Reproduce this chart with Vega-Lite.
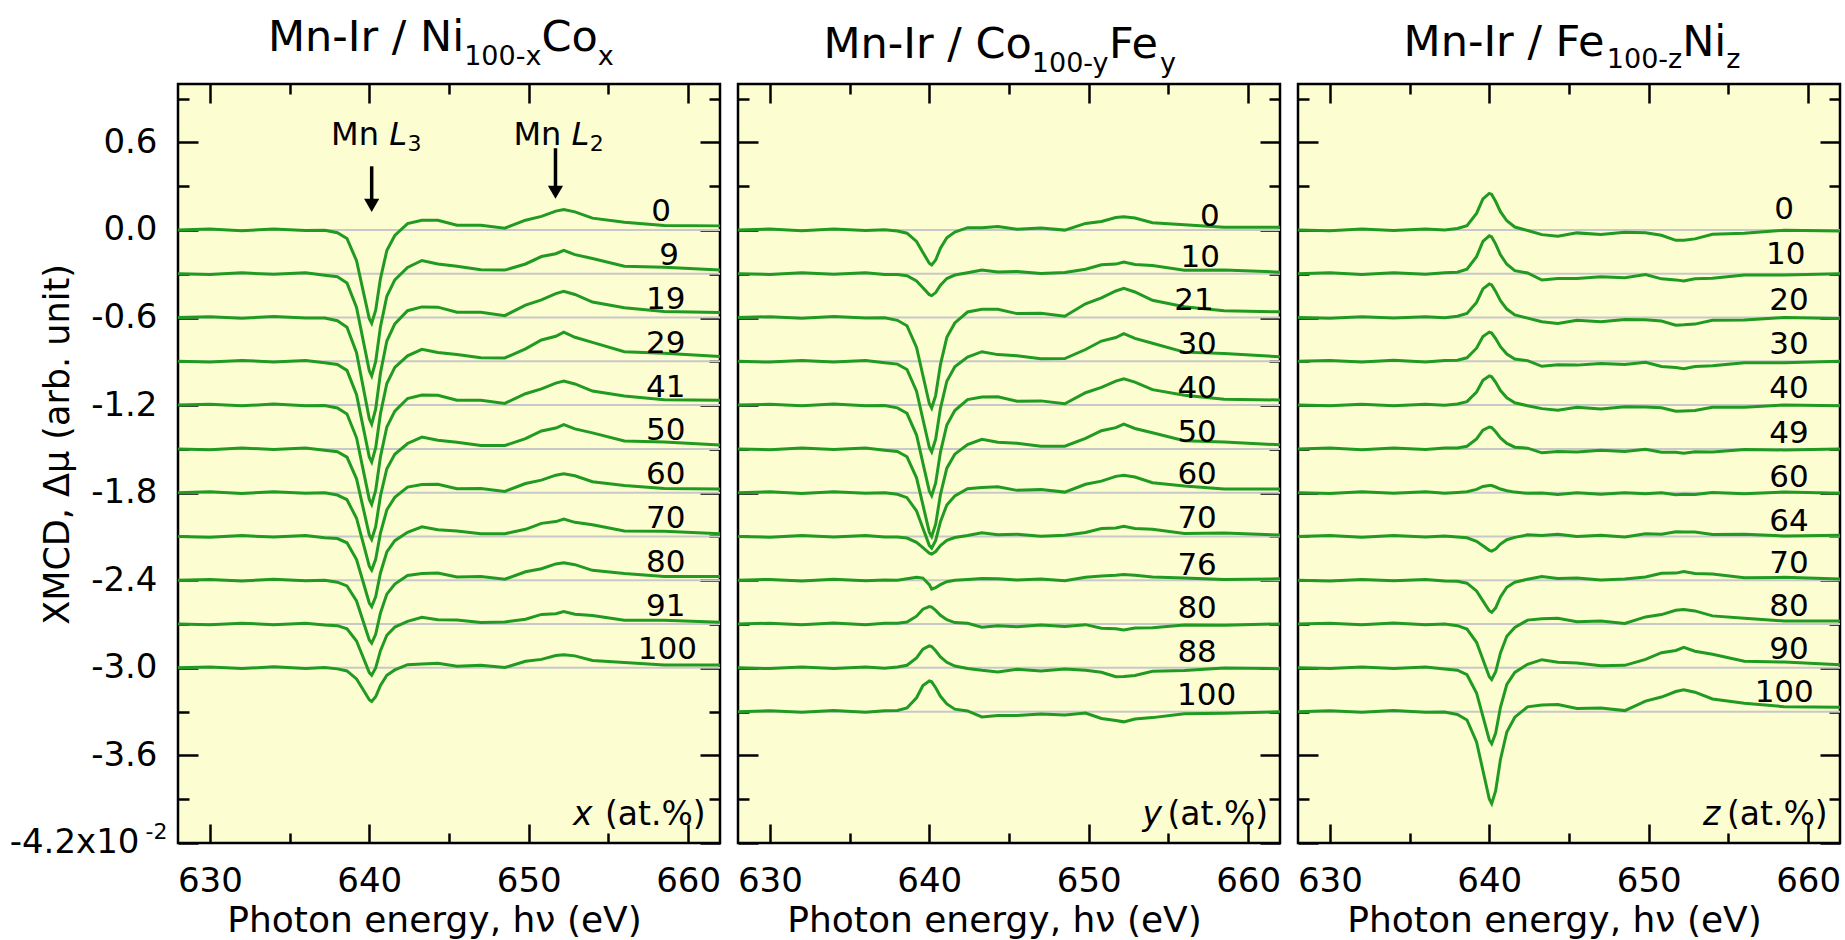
{
"$schema": "https://vega.github.io/schema/vega-lite/v6.json",
"background": "white",
"padding": {"left": 8, "top": 16, "right": 2, "bottom": 5},
"spacing": 2,
"config": {
 "font": "DejaVu Sans",
 "view": {"stroke": "black", "strokeWidth": 2.5, "fill": "#fdfdd2"},
 "axis": {"domain": false, "grid": false, "ticks": true, "tickColor": "black", "tickWidth": 2.5, "labelColor": "black", "labelFont": "DejaVu Sans", "labelFontSize": 34, "titleFont": "DejaVu Sans", "titleFontSize": 36, "titleFontWeight": "normal", "titleColor": "black", "labelFlush": false, "labelOverlap": false},
 "text": {"font": "DejaVu Sans", "color": "black"}
},
"datasets": {
"p1": [
{"k":"0","e":628,"v":0},{"k":"0","e":630,"v":0.006},{"k":"0","e":632,"v":-0.005},{"k":"0","e":634,"v":0.007},{"k":"0","e":636,"v":-0.004},{"k":"0","e":637.2,"v":-0.002},{"k":"0","e":638,"v":-0.019},{"k":"0","e":638.6,"v":-0.058},{"k":"0","e":639.2,"v":-0.211},{"k":"0","e":639.6,"v":-0.41},{"k":"0","e":640,"v":-0.608},{"k":"0","e":640.15,"v":-0.64},{"k":"0","e":640.4,"v":-0.55},{"k":"0","e":640.7,"v":-0.333},{"k":"0","e":641.1,"v":-0.141},{"k":"0","e":641.6,"v":-0.038},{"k":"0","e":642.4,"v":0.044},{"k":"0","e":643.3,"v":0.066},{"k":"0","e":644.3,"v":0.066},{"k":"0","e":645.5,"v":0.033},{"k":"0","e":647,"v":0.033},{"k":"0","e":648.5,"v":0.012},{"k":"0","e":649.8,"v":0.067},{"k":"0","e":650.8,"v":0.093},{"k":"0","e":651.7,"v":0.129},{"k":"0","e":652.2,"v":0.14},{"k":"0","e":652.9,"v":0.124},{"k":"0","e":654,"v":0.081},{"k":"0","e":656,"v":0.053},{"k":"0","e":658.5,"v":0.031},{"k":"0","e":662,"v":0.028},
{"k":"9","e":628,"v":-0.3},{"k":"9","e":630,"v":-0.305},{"k":"9","e":632,"v":-0.294},{"k":"9","e":634,"v":-0.304},{"k":"9","e":636,"v":-0.294},{"k":"9","e":637.2,"v":-0.31},{"k":"9","e":638,"v":-0.321},{"k":"9","e":638.6,"v":-0.363},{"k":"9","e":639.2,"v":-0.531},{"k":"9","e":639.6,"v":-0.748},{"k":"9","e":640,"v":-0.965},{"k":"9","e":640.15,"v":-1.0},{"k":"9","e":640.4,"v":-0.902},{"k":"9","e":640.7,"v":-0.664},{"k":"9","e":641.1,"v":-0.454},{"k":"9","e":641.6,"v":-0.342},{"k":"9","e":642.4,"v":-0.257},{"k":"9","e":643.3,"v":-0.209},{"k":"9","e":644.3,"v":-0.233},{"k":"9","e":645.5,"v":-0.248},{"k":"9","e":647,"v":-0.272},{"k":"9","e":648.5,"v":-0.275},{"k":"9","e":649.8,"v":-0.233},{"k":"9","e":650.8,"v":-0.182},{"k":"9","e":651.7,"v":-0.163},{"k":"9","e":652.2,"v":-0.14},{"k":"9","e":652.9,"v":-0.169},{"k":"9","e":654,"v":-0.195},{"k":"9","e":656,"v":-0.248},{"k":"9","e":658.5,"v":-0.255},{"k":"9","e":662,"v":-0.274},
{"k":"19","e":628,"v":-0.6},{"k":"19","e":630,"v":-0.594},{"k":"19","e":632,"v":-0.605},{"k":"19","e":634,"v":-0.593},{"k":"19","e":636,"v":-0.604},{"k":"19","e":637.2,"v":-0.603},{"k":"19","e":638,"v":-0.622},{"k":"19","e":638.6,"v":-0.666},{"k":"19","e":639.2,"v":-0.841},{"k":"19","e":639.6,"v":-1.067},{"k":"19","e":640,"v":-1.294},{"k":"19","e":640.15,"v":-1.33},{"k":"19","e":640.4,"v":-1.228},{"k":"19","e":640.7,"v":-0.98},{"k":"19","e":641.1,"v":-0.761},{"k":"19","e":641.6,"v":-0.644},{"k":"19","e":642.4,"v":-0.553},{"k":"19","e":643.3,"v":-0.527},{"k":"19","e":644.3,"v":-0.529},{"k":"19","e":645.5,"v":-0.564},{"k":"19","e":647,"v":-0.564},{"k":"19","e":648.5,"v":-0.587},{"k":"19","e":649.8,"v":-0.515},{"k":"19","e":650.8,"v":-0.479},{"k":"19","e":651.7,"v":-0.436},{"k":"19","e":652.2,"v":-0.42},{"k":"19","e":652.9,"v":-0.442},{"k":"19","e":654,"v":-0.494},{"k":"19","e":656,"v":-0.533},{"k":"19","e":658.5,"v":-0.559},{"k":"19","e":662,"v":-0.565},
{"k":"29","e":628,"v":-0.9},{"k":"29","e":630,"v":-0.905},{"k":"29","e":632,"v":-0.894},{"k":"29","e":634,"v":-0.904},{"k":"29","e":636,"v":-0.894},{"k":"29","e":637.2,"v":-0.91},{"k":"29","e":638,"v":-0.921},{"k":"29","e":638.6,"v":-0.962},{"k":"29","e":639.2,"v":-1.128},{"k":"29","e":639.6,"v":-1.342},{"k":"29","e":640,"v":-1.556},{"k":"29","e":640.15,"v":-1.59},{"k":"29","e":640.4,"v":-1.493},{"k":"29","e":640.7,"v":-1.259},{"k":"29","e":641.1,"v":-1.052},{"k":"29","e":641.6,"v":-0.941},{"k":"29","e":642.4,"v":-0.862},{"k":"29","e":643.3,"v":-0.818},{"k":"29","e":644.3,"v":-0.84},{"k":"29","e":645.5,"v":-0.853},{"k":"29","e":647,"v":-0.876},{"k":"29","e":648.5,"v":-0.877},{"k":"29","e":649.8,"v":-0.815},{"k":"29","e":650.8,"v":-0.754},{"k":"29","e":651.7,"v":-0.728},{"k":"29","e":652.2,"v":-0.7},{"k":"29","e":652.9,"v":-0.735},{"k":"29","e":654,"v":-0.77},{"k":"29","e":656,"v":-0.834},{"k":"29","e":658.5,"v":-0.845},{"k":"29","e":662,"v":-0.867},
{"k":"41","e":628,"v":-1.2},{"k":"41","e":630,"v":-1.194},{"k":"41","e":632,"v":-1.205},{"k":"41","e":634,"v":-1.193},{"k":"41","e":636,"v":-1.204},{"k":"41","e":637.2,"v":-1.203},{"k":"41","e":638,"v":-1.22},{"k":"41","e":638.6,"v":-1.261},{"k":"41","e":639.2,"v":-1.424},{"k":"41","e":639.6,"v":-1.635},{"k":"41","e":640,"v":-1.846},{"k":"41","e":640.15,"v":-1.88},{"k":"41","e":640.4,"v":-1.785},{"k":"41","e":640.7,"v":-1.554},{"k":"41","e":641.1,"v":-1.35},{"k":"41","e":641.6,"v":-1.241},{"k":"41","e":642.4,"v":-1.155},{"k":"41","e":643.3,"v":-1.131},{"k":"41","e":644.3,"v":-1.132},{"k":"41","e":645.5,"v":-1.166},{"k":"41","e":647,"v":-1.166},{"k":"41","e":648.5,"v":-1.188},{"k":"41","e":649.8,"v":-1.122},{"k":"41","e":650.8,"v":-1.089},{"k":"41","e":651.7,"v":-1.049},{"k":"41","e":652.2,"v":-1.035},{"k":"41","e":652.9,"v":-1.055},{"k":"41","e":654,"v":-1.104},{"k":"41","e":656,"v":-1.138},{"k":"41","e":658.5,"v":-1.163},{"k":"41","e":662,"v":-1.167},
{"k":"50","e":628,"v":-1.5},{"k":"50","e":630,"v":-1.505},{"k":"50","e":632,"v":-1.494},{"k":"50","e":634,"v":-1.504},{"k":"50","e":636,"v":-1.494},{"k":"50","e":637.2,"v":-1.509},{"k":"50","e":638,"v":-1.519},{"k":"50","e":638.6,"v":-1.556},{"k":"50","e":639.2,"v":-1.705},{"k":"50","e":639.6,"v":-1.897},{"k":"50","e":640,"v":-2.089},{"k":"50","e":640.15,"v":-2.12},{"k":"50","e":640.4,"v":-2.033},{"k":"50","e":640.7,"v":-1.822},{"k":"50","e":641.1,"v":-1.636},{"k":"50","e":641.6,"v":-1.537},{"k":"50","e":642.4,"v":-1.463},{"k":"50","e":643.3,"v":-1.419},{"k":"50","e":644.3,"v":-1.441},{"k":"50","e":645.5,"v":-1.454},{"k":"50","e":647,"v":-1.476},{"k":"50","e":648.5,"v":-1.477},{"k":"50","e":649.8,"v":-1.43},{"k":"50","e":650.8,"v":-1.377},{"k":"50","e":651.7,"v":-1.357},{"k":"50","e":652.2,"v":-1.333},{"k":"50","e":652.9,"v":-1.363},{"k":"50","e":654,"v":-1.39},{"k":"50","e":656,"v":-1.446},{"k":"50","e":658.5,"v":-1.453},{"k":"50","e":662,"v":-1.473},
{"k":"60","e":628,"v":-1.8},{"k":"60","e":630,"v":-1.794},{"k":"60","e":632,"v":-1.805},{"k":"60","e":634,"v":-1.793},{"k":"60","e":636,"v":-1.804},{"k":"60","e":637.2,"v":-1.801},{"k":"60","e":638,"v":-1.816},{"k":"60","e":638.6,"v":-1.848},{"k":"60","e":639.2,"v":-1.975},{"k":"60","e":639.6,"v":-2.139},{"k":"60","e":640,"v":-2.304},{"k":"60","e":640.15,"v":-2.33},{"k":"60","e":640.4,"v":-2.256},{"k":"60","e":640.7,"v":-2.076},{"k":"60","e":641.1,"v":-1.917},{"k":"60","e":641.6,"v":-1.832},{"k":"60","e":642.4,"v":-1.762},{"k":"60","e":643.3,"v":-1.744},{"k":"60","e":644.3,"v":-1.743},{"k":"60","e":645.5,"v":-1.773},{"k":"60","e":647,"v":-1.771},{"k":"60","e":648.5,"v":-1.791},{"k":"60","e":649.8,"v":-1.737},{"k":"60","e":650.8,"v":-1.714},{"k":"60","e":651.7,"v":-1.68},{"k":"60","e":652.2,"v":-1.67},{"k":"60","e":652.9,"v":-1.684},{"k":"60","e":654,"v":-1.725},{"k":"60","e":656,"v":-1.75},{"k":"60","e":658.5,"v":-1.771},{"k":"60","e":662,"v":-1.774},
{"k":"70","e":628,"v":-2.1},{"k":"70","e":630,"v":-2.105},{"k":"70","e":632,"v":-2.094},{"k":"70","e":634,"v":-2.104},{"k":"70","e":636,"v":-2.094},{"k":"70","e":637.2,"v":-2.108},{"k":"70","e":638,"v":-2.114},{"k":"70","e":638.6,"v":-2.143},{"k":"70","e":639.2,"v":-2.258},{"k":"70","e":639.6,"v":-2.407},{"k":"70","e":640,"v":-2.556},{"k":"70","e":640.15,"v":-2.58},{"k":"70","e":640.4,"v":-2.513},{"k":"70","e":640.7,"v":-2.35},{"k":"70","e":641.1,"v":-2.206},{"k":"70","e":641.6,"v":-2.129},{"k":"70","e":642.4,"v":-2.071},{"k":"70","e":643.3,"v":-2.034},{"k":"70","e":644.3,"v":-2.054},{"k":"70","e":645.5,"v":-2.062},{"k":"70","e":647,"v":-2.082},{"k":"70","e":648.5,"v":-2.081},{"k":"70","e":649.8,"v":-2.051},{"k":"70","e":650.8,"v":-2.01},{"k":"70","e":651.7,"v":-1.998},{"k":"70","e":652.2,"v":-1.98},{"k":"70","e":652.9,"v":-2.003},{"k":"70","e":654,"v":-2.02},{"k":"70","e":656,"v":-2.062},{"k":"70","e":658.5,"v":-2.065},{"k":"70","e":662,"v":-2.081},
{"k":"80","e":628,"v":-2.4},{"k":"80","e":630,"v":-2.394},{"k":"80","e":632,"v":-2.405},{"k":"80","e":634,"v":-2.393},{"k":"80","e":636,"v":-2.404},{"k":"80","e":637.2,"v":-2.4},{"k":"80","e":638,"v":-2.413},{"k":"80","e":638.6,"v":-2.439},{"k":"80","e":639.2,"v":-2.542},{"k":"80","e":639.6,"v":-2.675},{"k":"80","e":640,"v":-2.809},{"k":"80","e":640.15,"v":-2.83},{"k":"80","e":640.4,"v":-2.77},{"k":"80","e":640.7,"v":-2.624},{"k":"80","e":641.1,"v":-2.495},{"k":"80","e":641.6,"v":-2.426},{"k":"80","e":642.4,"v":-2.367},{"k":"80","e":643.3,"v":-2.354},{"k":"80","e":644.3,"v":-2.351},{"k":"80","e":645.5,"v":-2.378},{"k":"80","e":647,"v":-2.375},{"k":"80","e":648.5,"v":-2.393},{"k":"80","e":649.8,"v":-2.342},{"k":"80","e":650.8,"v":-2.321},{"k":"80","e":651.7,"v":-2.288},{"k":"80","e":652.2,"v":-2.28},{"k":"80","e":652.9,"v":-2.293},{"k":"80","e":654,"v":-2.332},{"k":"80","e":656,"v":-2.354},{"k":"80","e":658.5,"v":-2.374},{"k":"80","e":662,"v":-2.375},
{"k":"91","e":628,"v":-2.7},{"k":"91","e":630,"v":-2.705},{"k":"91","e":632,"v":-2.694},{"k":"91","e":634,"v":-2.704},{"k":"91","e":636,"v":-2.694},{"k":"91","e":637.2,"v":-2.707},{"k":"91","e":638,"v":-2.711},{"k":"91","e":638.6,"v":-2.732},{"k":"91","e":639.2,"v":-2.816},{"k":"91","e":639.6,"v":-2.924},{"k":"91","e":640,"v":-3.033},{"k":"91","e":640.15,"v":-3.05},{"k":"91","e":640.4,"v":-3.001},{"k":"91","e":640.7,"v":-2.882},{"k":"91","e":641.1,"v":-2.777},{"k":"91","e":641.6,"v":-2.721},{"k":"91","e":642.4,"v":-2.682},{"k":"91","e":643.3,"v":-2.654},{"k":"91","e":644.3,"v":-2.671},{"k":"91","e":645.5,"v":-2.673},{"k":"91","e":647,"v":-2.69},{"k":"91","e":648.5,"v":-2.686},{"k":"91","e":649.8,"v":-2.667},{"k":"91","e":650.8,"v":-2.634},{"k":"91","e":651.7,"v":-2.629},{"k":"91","e":652.2,"v":-2.615},{"k":"91","e":652.9,"v":-2.633},{"k":"91","e":654,"v":-2.641},{"k":"91","e":656,"v":-2.674},{"k":"91","e":658.5,"v":-2.674},{"k":"91","e":662,"v":-2.688},
{"k":"100","e":628,"v":-3.0},{"k":"100","e":630,"v":-2.994},{"k":"100","e":632,"v":-3.005},{"k":"100","e":634,"v":-2.993},{"k":"100","e":636,"v":-3.004},{"k":"100","e":637.2,"v":-2.998},{"k":"100","e":638,"v":-3.007},{"k":"100","e":638.6,"v":-3.021},{"k":"100","e":639.2,"v":-3.076},{"k":"100","e":639.6,"v":-3.147},{"k":"100","e":640,"v":-3.219},{"k":"100","e":640.15,"v":-3.23},{"k":"100","e":640.4,"v":-3.198},{"k":"100","e":640.7,"v":-3.12},{"k":"100","e":641.1,"v":-3.051},{"k":"100","e":641.6,"v":-3.014},{"k":"100","e":642.4,"v":-2.978},{"k":"100","e":643.3,"v":-2.974},{"k":"100","e":644.3,"v":-2.968},{"k":"100","e":645.5,"v":-2.989},{"k":"100","e":647,"v":-2.983},{"k":"100","e":648.5,"v":-2.998},{"k":"100","e":649.8,"v":-2.955},{"k":"100","e":650.8,"v":-2.942},{"k":"100","e":651.7,"v":-2.915},{"k":"100","e":652.2,"v":-2.91},{"k":"100","e":652.9,"v":-2.918},{"k":"100","e":654,"v":-2.95},{"k":"100","e":656,"v":-2.964},{"k":"100","e":658.5,"v":-2.981},{"k":"100","e":662,"v":-2.981}
],
"p2": [
{"k":"0","e":628,"v":0},{"k":"0","e":630,"v":0.006},{"k":"0","e":632,"v":-0.005},{"k":"0","e":634,"v":0.007},{"k":"0","e":636,"v":-0.004},{"k":"0","e":637.2,"v":0.002},{"k":"0","e":638,"v":-0.007},{"k":"0","e":638.6,"v":-0.022},{"k":"0","e":639.2,"v":-0.079},{"k":"0","e":639.6,"v":-0.154},{"k":"0","e":640,"v":-0.228},{"k":"0","e":640.15,"v":-0.24},{"k":"0","e":640.4,"v":-0.206},{"k":"0","e":640.7,"v":-0.125},{"k":"0","e":641.1,"v":-0.053},{"k":"0","e":641.6,"v":-0.014},{"k":"0","e":642.4,"v":0.016},{"k":"0","e":643.3,"v":0.016},{"k":"0","e":644.3,"v":0.023},{"k":"0","e":645.5,"v":0.005},{"k":"0","e":647,"v":0.013},{"k":"0","e":648.5,"v":-0.001},{"k":"0","e":649.8,"v":0.045},{"k":"0","e":650.8,"v":0.058},{"k":"0","e":651.7,"v":0.085},{"k":"0","e":652.2,"v":0.09},{"k":"0","e":652.9,"v":0.082},{"k":"0","e":654,"v":0.05},{"k":"0","e":656,"v":0.036},{"k":"0","e":658.5,"v":0.019},{"k":"0","e":662,"v":0.019},
{"k":"10","e":628,"v":-0.3},{"k":"10","e":630,"v":-0.305},{"k":"10","e":632,"v":-0.294},{"k":"10","e":634,"v":-0.304},{"k":"10","e":636,"v":-0.294},{"k":"10","e":637.2,"v":-0.305},{"k":"10","e":638,"v":-0.305},{"k":"10","e":638.6,"v":-0.314},{"k":"10","e":639.2,"v":-0.35},{"k":"10","e":639.6,"v":-0.396},{"k":"10","e":640,"v":-0.443},{"k":"10","e":640.15,"v":-0.45},{"k":"10","e":640.4,"v":-0.429},{"k":"10","e":640.7,"v":-0.378},{"k":"10","e":641.1,"v":-0.333},{"k":"10","e":641.6,"v":-0.309},{"k":"10","e":642.4,"v":-0.293},{"k":"10","e":643.3,"v":-0.274},{"k":"10","e":644.3,"v":-0.288},{"k":"10","e":645.5,"v":-0.284},{"k":"10","e":647,"v":-0.298},{"k":"10","e":648.5,"v":-0.291},{"k":"10","e":649.8,"v":-0.269},{"k":"10","e":650.8,"v":-0.238},{"k":"10","e":651.7,"v":-0.234},{"k":"10","e":652.2,"v":-0.22},{"k":"10","e":652.9,"v":-0.237},{"k":"10","e":654,"v":-0.244},{"k":"10","e":656,"v":-0.276},{"k":"10","e":658.5,"v":-0.275},{"k":"10","e":662,"v":-0.289},
{"k":"21","e":628,"v":-0.6},{"k":"21","e":630,"v":-0.594},{"k":"21","e":632,"v":-0.605},{"k":"21","e":634,"v":-0.593},{"k":"21","e":636,"v":-0.604},{"k":"21","e":637.2,"v":-0.602},{"k":"21","e":638,"v":-0.619},{"k":"21","e":638.6,"v":-0.656},{"k":"21","e":639.2,"v":-0.805},{"k":"21","e":639.6,"v":-0.997},{"k":"21","e":640,"v":-1.189},{"k":"21","e":640.15,"v":-1.22},{"k":"21","e":640.4,"v":-1.133},{"k":"21","e":640.7,"v":-0.922},{"k":"21","e":641.1,"v":-0.736},{"k":"21","e":641.6,"v":-0.637},{"k":"21","e":642.4,"v":-0.562},{"k":"21","e":643.3,"v":-0.544},{"k":"21","e":644.3,"v":-0.543},{"k":"21","e":645.5,"v":-0.573},{"k":"21","e":647,"v":-0.571},{"k":"21","e":648.5,"v":-0.591},{"k":"21","e":649.8,"v":-0.506},{"k":"21","e":650.8,"v":-0.465},{"k":"21","e":651.7,"v":-0.418},{"k":"21","e":652.2,"v":-0.4},{"k":"21","e":652.9,"v":-0.425},{"k":"21","e":654,"v":-0.482},{"k":"21","e":656,"v":-0.526},{"k":"21","e":658.5,"v":-0.554},{"k":"21","e":662,"v":-0.561},
{"k":"30","e":628,"v":-0.9},{"k":"30","e":630,"v":-0.905},{"k":"30","e":632,"v":-0.894},{"k":"30","e":634,"v":-0.904},{"k":"30","e":636,"v":-0.894},{"k":"30","e":637.2,"v":-0.909},{"k":"30","e":638,"v":-0.919},{"k":"30","e":638.6,"v":-0.956},{"k":"30","e":639.2,"v":-1.105},{"k":"30","e":639.6,"v":-1.297},{"k":"30","e":640,"v":-1.489},{"k":"30","e":640.15,"v":-1.52},{"k":"30","e":640.4,"v":-1.433},{"k":"30","e":640.7,"v":-1.222},{"k":"30","e":641.1,"v":-1.036},{"k":"30","e":641.6,"v":-0.937},{"k":"30","e":642.4,"v":-0.871},{"k":"30","e":643.3,"v":-0.834},{"k":"30","e":644.3,"v":-0.854},{"k":"30","e":645.5,"v":-0.862},{"k":"30","e":647,"v":-0.882},{"k":"30","e":648.5,"v":-0.881},{"k":"30","e":649.8,"v":-0.819},{"k":"30","e":650.8,"v":-0.761},{"k":"30","e":651.7,"v":-0.737},{"k":"30","e":652.2,"v":-0.71},{"k":"30","e":652.9,"v":-0.743},{"k":"30","e":654,"v":-0.776},{"k":"30","e":656,"v":-0.837},{"k":"30","e":658.5,"v":-0.847},{"k":"30","e":662,"v":-0.869},
{"k":"40","e":628,"v":-1.2},{"k":"40","e":630,"v":-1.194},{"k":"40","e":632,"v":-1.205},{"k":"40","e":634,"v":-1.193},{"k":"40","e":636,"v":-1.204},{"k":"40","e":637.2,"v":-1.202},{"k":"40","e":638,"v":-1.219},{"k":"40","e":638.6,"v":-1.256},{"k":"40","e":639.2,"v":-1.405},{"k":"40","e":639.6,"v":-1.597},{"k":"40","e":640,"v":-1.789},{"k":"40","e":640.15,"v":-1.82},{"k":"40","e":640.4,"v":-1.733},{"k":"40","e":640.7,"v":-1.522},{"k":"40","e":641.1,"v":-1.336},{"k":"40","e":641.6,"v":-1.237},{"k":"40","e":642.4,"v":-1.162},{"k":"40","e":643.3,"v":-1.144},{"k":"40","e":644.3,"v":-1.143},{"k":"40","e":645.5,"v":-1.173},{"k":"40","e":647,"v":-1.171},{"k":"40","e":648.5,"v":-1.191},{"k":"40","e":649.8,"v":-1.115},{"k":"40","e":650.8,"v":-1.079},{"k":"40","e":651.7,"v":-1.036},{"k":"40","e":652.2,"v":-1.02},{"k":"40","e":652.9,"v":-1.042},{"k":"40","e":654,"v":-1.094},{"k":"40","e":656,"v":-1.133},{"k":"40","e":658.5,"v":-1.159},{"k":"40","e":662,"v":-1.165},
{"k":"50","e":628,"v":-1.5},{"k":"50","e":630,"v":-1.505},{"k":"50","e":632,"v":-1.494},{"k":"50","e":634,"v":-1.504},{"k":"50","e":636,"v":-1.494},{"k":"50","e":637.2,"v":-1.509},{"k":"50","e":638,"v":-1.518},{"k":"50","e":638.6,"v":-1.554},{"k":"50","e":639.2,"v":-1.698},{"k":"50","e":639.6,"v":-1.884},{"k":"50","e":640,"v":-2.07},{"k":"50","e":640.15,"v":-2.1},{"k":"50","e":640.4,"v":-2.016},{"k":"50","e":640.7,"v":-1.812},{"k":"50","e":641.1,"v":-1.632},{"k":"50","e":641.6,"v":-1.536},{"k":"50","e":642.4,"v":-1.471},{"k":"50","e":643.3,"v":-1.434},{"k":"50","e":644.3,"v":-1.454},{"k":"50","e":645.5,"v":-1.462},{"k":"50","e":647,"v":-1.482},{"k":"50","e":648.5,"v":-1.481},{"k":"50","e":649.8,"v":-1.428},{"k":"50","e":650.8,"v":-1.375},{"k":"50","e":651.7,"v":-1.354},{"k":"50","e":652.2,"v":-1.33},{"k":"50","e":652.9,"v":-1.36},{"k":"50","e":654,"v":-1.389},{"k":"50","e":656,"v":-1.444},{"k":"50","e":658.5,"v":-1.452},{"k":"50","e":662,"v":-1.472},
{"k":"60","e":628,"v":-1.8},{"k":"60","e":630,"v":-1.794},{"k":"60","e":632,"v":-1.805},{"k":"60","e":634,"v":-1.793},{"k":"60","e":636,"v":-1.804},{"k":"60","e":637.2,"v":-1.8},{"k":"60","e":638,"v":-1.811},{"k":"60","e":638.6,"v":-1.834},{"k":"60","e":639.2,"v":-1.925},{"k":"60","e":639.6,"v":-2.043},{"k":"60","e":640,"v":-2.161},{"k":"60","e":640.15,"v":-2.18},{"k":"60","e":640.4,"v":-2.127},{"k":"60","e":640.7,"v":-1.998},{"k":"60","e":641.1,"v":-1.884},{"k":"60","e":641.6,"v":-1.823},{"k":"60","e":642.4,"v":-1.773},{"k":"60","e":643.3,"v":-1.764},{"k":"60","e":644.3,"v":-1.76},{"k":"60","e":645.5,"v":-1.784},{"k":"60","e":647,"v":-1.779},{"k":"60","e":648.5,"v":-1.796},{"k":"60","e":649.8,"v":-1.742},{"k":"60","e":650.8,"v":-1.721},{"k":"60","e":651.7,"v":-1.688},{"k":"60","e":652.2,"v":-1.68},{"k":"60","e":652.9,"v":-1.693},{"k":"60","e":654,"v":-1.732},{"k":"60","e":656,"v":-1.754},{"k":"60","e":658.5,"v":-1.774},{"k":"60","e":662,"v":-1.775},
{"k":"70","e":628,"v":-2.1},{"k":"70","e":630,"v":-2.105},{"k":"70","e":632,"v":-2.094},{"k":"70","e":634,"v":-2.104},{"k":"70","e":636,"v":-2.094},{"k":"70","e":637.2,"v":-2.104},{"k":"70","e":638,"v":-2.104},{"k":"70","e":638.6,"v":-2.111},{"k":"70","e":639.2,"v":-2.14},{"k":"70","e":639.6,"v":-2.177},{"k":"70","e":640,"v":-2.214},{"k":"70","e":640.15,"v":-2.22},{"k":"70","e":640.4,"v":-2.203},{"k":"70","e":640.7,"v":-2.162},{"k":"70","e":641.1,"v":-2.126},{"k":"70","e":641.6,"v":-2.107},{"k":"70","e":642.4,"v":-2.093},{"k":"70","e":643.3,"v":-2.074},{"k":"70","e":644.3,"v":-2.088},{"k":"70","e":645.5,"v":-2.084},{"k":"70","e":647,"v":-2.098},{"k":"70","e":648.5,"v":-2.091},{"k":"70","e":649.8,"v":-2.073},{"k":"70","e":650.8,"v":-2.045},{"k":"70","e":651.7,"v":-2.042},{"k":"70","e":652.2,"v":-2.03},{"k":"70","e":652.9,"v":-2.045},{"k":"70","e":654,"v":-2.051},{"k":"70","e":656,"v":-2.079},{"k":"70","e":658.5,"v":-2.077},{"k":"70","e":662,"v":-2.09},
{"k":"76","e":628,"v":-2.4},{"k":"76","e":630,"v":-2.394},{"k":"76","e":632,"v":-2.405},{"k":"76","e":634,"v":-2.393},{"k":"76","e":636,"v":-2.404},{"k":"76","e":637.2,"v":-2.398},{"k":"76","e":638,"v":-2.4},{"k":"76","e":638.6,"v":-2.39},{"k":"76","e":639.2,"v":-2.38},{"k":"76","e":639.6,"v":-2.385},{"k":"76","e":640,"v":-2.43},{"k":"76","e":640.15,"v":-2.46},{"k":"76","e":640.4,"v":-2.45},{"k":"76","e":640.7,"v":-2.43},{"k":"76","e":641.1,"v":-2.41},{"k":"76","e":641.6,"v":-2.4},{"k":"76","e":642.4,"v":-2.395},{"k":"76","e":643.3,"v":-2.388},{"k":"76","e":644.3,"v":-2.39},{"k":"76","e":645.5,"v":-2.398},{"k":"76","e":647,"v":-2.392},{"k":"76","e":648.5,"v":-2.404},{"k":"76","e":649.8,"v":-2.38},{"k":"76","e":650.8,"v":-2.37},{"k":"76","e":651.7,"v":-2.365},{"k":"76","e":652.2,"v":-2.36},{"k":"76","e":652.9,"v":-2.366},{"k":"76","e":654,"v":-2.378},{"k":"76","e":656,"v":-2.384},{"k":"76","e":658.5,"v":-2.394},{"k":"76","e":662,"v":-2.39},
{"k":"80","e":628,"v":-2.7},{"k":"80","e":630,"v":-2.694},{"k":"80","e":632,"v":-2.705},{"k":"80","e":634,"v":-2.693},{"k":"80","e":636,"v":-2.704},{"k":"80","e":637.2,"v":-2.695},{"k":"80","e":638,"v":-2.695},{"k":"80","e":638.6,"v":-2.686},{"k":"80","e":639.2,"v":-2.646},{"k":"80","e":639.6,"v":-2.598},{"k":"80","e":640,"v":-2.58},{"k":"80","e":640.15,"v":-2.584},{"k":"80","e":640.4,"v":-2.606},{"k":"80","e":640.7,"v":-2.64},{"k":"80","e":641.1,"v":-2.67},{"k":"80","e":641.6,"v":-2.69},{"k":"80","e":642.4,"v":-2.695},{"k":"80","e":643.3,"v":-2.722},{"k":"80","e":644.3,"v":-2.712},{"k":"80","e":645.5,"v":-2.718},{"k":"80","e":647,"v":-2.707},{"k":"80","e":648.5,"v":-2.716},{"k":"80","e":649.8,"v":-2.704},{"k":"80","e":650.8,"v":-2.729},{"k":"80","e":651.7,"v":-2.732},{"k":"80","e":652.2,"v":-2.74},{"k":"80","e":652.9,"v":-2.727},{"k":"80","e":654,"v":-2.726},{"k":"80","e":656,"v":-2.706},{"k":"80","e":658.5,"v":-2.708},{"k":"80","e":662,"v":-2.699},
{"k":"88","e":628,"v":-3.0},{"k":"88","e":630,"v":-3.005},{"k":"88","e":632,"v":-2.994},{"k":"88","e":634,"v":-3.004},{"k":"88","e":636,"v":-2.994},{"k":"88","e":637.2,"v":-3.002},{"k":"88","e":638,"v":-2.994},{"k":"88","e":638.6,"v":-2.982},{"k":"88","e":639.2,"v":-2.932},{"k":"88","e":639.6,"v":-2.872},{"k":"88","e":640,"v":-2.85},{"k":"88","e":640.15,"v":-2.854},{"k":"88","e":640.4,"v":-2.883},{"k":"88","e":640.7,"v":-2.925},{"k":"88","e":641.1,"v":-2.962},{"k":"88","e":641.6,"v":-2.988},{"k":"88","e":642.4,"v":-3.004},{"k":"88","e":643.3,"v":-3.017},{"k":"88","e":644.3,"v":-3.028},{"k":"88","e":645.5,"v":-3.01},{"k":"88","e":647,"v":-3.021},{"k":"88","e":648.5,"v":-3.008},{"k":"88","e":649.8,"v":-3.017},{"k":"88","e":650.8,"v":-3.03},{"k":"88","e":651.7,"v":-3.061},{"k":"88","e":652.2,"v":-3.06},{"k":"88","e":652.9,"v":-3.053},{"k":"88","e":654,"v":-3.024},{"k":"88","e":656,"v":-3.019},{"k":"88","e":658.5,"v":-3.001},{"k":"88","e":662,"v":-3.006},
{"k":"100","e":628,"v":-3.3},{"k":"100","e":630,"v":-3.294},{"k":"100","e":632,"v":-3.305},{"k":"100","e":634,"v":-3.293},{"k":"100","e":636,"v":-3.304},{"k":"100","e":637.2,"v":-3.294},{"k":"100","e":638,"v":-3.292},{"k":"100","e":638.6,"v":-3.275},{"k":"100","e":639.2,"v":-3.205},{"k":"100","e":639.6,"v":-3.121},{"k":"100","e":640,"v":-3.09},{"k":"100","e":640.15,"v":-3.096},{"k":"100","e":640.4,"v":-3.136},{"k":"100","e":640.7,"v":-3.195},{"k":"100","e":641.1,"v":-3.247},{"k":"100","e":641.6,"v":-3.283},{"k":"100","e":642.4,"v":-3.295},{"k":"100","e":643.3,"v":-3.336},{"k":"100","e":644.3,"v":-3.326},{"k":"100","e":645.5,"v":-3.327},{"k":"100","e":647,"v":-3.316},{"k":"100","e":648.5,"v":-3.323},{"k":"100","e":649.8,"v":-3.31},{"k":"100","e":650.8,"v":-3.347},{"k":"100","e":651.7,"v":-3.361},{"k":"100","e":652.2,"v":-3.37},{"k":"100","e":652.9,"v":-3.351},{"k":"100","e":654,"v":-3.341},{"k":"100","e":656,"v":-3.314},{"k":"100","e":658.5,"v":-3.311},{"k":"100","e":662,"v":-3.301}
],
"p3": [
{"k":"0","e":628,"v":0},{"k":"0","e":630,"v":-0.005},{"k":"0","e":632,"v":0.006},{"k":"0","e":634,"v":-0.004},{"k":"0","e":636,"v":0.006},{"k":"0","e":637.2,"v":0},{"k":"0","e":638,"v":0.01},{"k":"0","e":638.6,"v":0.03},{"k":"0","e":639.2,"v":0.113},{"k":"0","e":639.6,"v":0.213},{"k":"0","e":640,"v":0.25},{"k":"0","e":640.15,"v":0.243},{"k":"0","e":640.4,"v":0.195},{"k":"0","e":640.7,"v":0.125},{"k":"0","e":641.1,"v":0.063},{"k":"0","e":641.6,"v":0.02},{"k":"0","e":642.4,"v":-0.004},{"k":"0","e":643.3,"v":-0.032},{"k":"0","e":644.3,"v":-0.043},{"k":"0","e":645.5,"v":-0.02},{"k":"0","e":647,"v":-0.031},{"k":"0","e":648.5,"v":-0.016},{"k":"0","e":649.8,"v":-0.019},{"k":"0","e":650.8,"v":-0.036},{"k":"0","e":651.7,"v":-0.071},{"k":"0","e":652.2,"v":-0.07},{"k":"0","e":652.9,"v":-0.061},{"k":"0","e":654,"v":-0.029},{"k":"0","e":656,"v":-0.022},{"k":"0","e":658.5,"v":-0.002},{"k":"0","e":662,"v":-0.007},
{"k":"10","e":628,"v":-0.3},{"k":"10","e":630,"v":-0.294},{"k":"10","e":632,"v":-0.305},{"k":"10","e":634,"v":-0.293},{"k":"10","e":636,"v":-0.304},{"k":"10","e":637.2,"v":-0.293},{"k":"10","e":638,"v":-0.29},{"k":"10","e":638.6,"v":-0.269},{"k":"10","e":639.2,"v":-0.183},{"k":"10","e":639.6,"v":-0.079},{"k":"10","e":640,"v":-0.04},{"k":"10","e":640.15,"v":-0.048},{"k":"10","e":640.4,"v":-0.097},{"k":"10","e":640.7,"v":-0.17},{"k":"10","e":641.1,"v":-0.235},{"k":"10","e":641.6,"v":-0.279},{"k":"10","e":642.4,"v":-0.295},{"k":"10","e":643.3,"v":-0.343},{"k":"10","e":644.3,"v":-0.333},{"k":"10","e":645.5,"v":-0.332},{"k":"10","e":647,"v":-0.321},{"k":"10","e":648.5,"v":-0.327},{"k":"10","e":649.8,"v":-0.306},{"k":"10","e":650.8,"v":-0.335},{"k":"10","e":651.7,"v":-0.342},{"k":"10","e":652.2,"v":-0.35},{"k":"10","e":652.9,"v":-0.335},{"k":"10","e":654,"v":-0.331},{"k":"10","e":656,"v":-0.309},{"k":"10","e":658.5,"v":-0.309},{"k":"10","e":662,"v":-0.3},
{"k":"20","e":628,"v":-0.6},{"k":"20","e":630,"v":-0.605},{"k":"20","e":632,"v":-0.594},{"k":"20","e":634,"v":-0.604},{"k":"20","e":636,"v":-0.594},{"k":"20","e":637.2,"v":-0.601},{"k":"20","e":638,"v":-0.591},{"k":"20","e":638.6,"v":-0.572},{"k":"20","e":639.2,"v":-0.496},{"k":"20","e":639.6,"v":-0.404},{"k":"20","e":640,"v":-0.37},{"k":"20","e":640.15,"v":-0.377},{"k":"20","e":640.4,"v":-0.421},{"k":"20","e":640.7,"v":-0.485},{"k":"20","e":641.1,"v":-0.542},{"k":"20","e":641.6,"v":-0.582},{"k":"20","e":642.4,"v":-0.604},{"k":"20","e":643.3,"v":-0.629},{"k":"20","e":644.3,"v":-0.64},{"k":"20","e":645.5,"v":-0.618},{"k":"20","e":647,"v":-0.629},{"k":"20","e":648.5,"v":-0.614},{"k":"20","e":649.8,"v":-0.615},{"k":"20","e":650.8,"v":-0.624},{"k":"20","e":651.7,"v":-0.652},{"k":"20","e":652.2,"v":-0.65},{"k":"20","e":652.9,"v":-0.645},{"k":"20","e":654,"v":-0.619},{"k":"20","e":656,"v":-0.617},{"k":"20","e":658.5,"v":-0.6},{"k":"20","e":662,"v":-0.606},
{"k":"30","e":628,"v":-0.9},{"k":"30","e":630,"v":-0.894},{"k":"30","e":632,"v":-0.905},{"k":"30","e":634,"v":-0.893},{"k":"30","e":636,"v":-0.904},{"k":"30","e":637.2,"v":-0.894},{"k":"30","e":638,"v":-0.892},{"k":"30","e":638.6,"v":-0.876},{"k":"30","e":639.2,"v":-0.81},{"k":"30","e":639.6,"v":-0.73},{"k":"30","e":640,"v":-0.7},{"k":"30","e":640.15,"v":-0.706},{"k":"30","e":640.4,"v":-0.744},{"k":"30","e":640.7,"v":-0.8},{"k":"30","e":641.1,"v":-0.85},{"k":"30","e":641.6,"v":-0.884},{"k":"30","e":642.4,"v":-0.895},{"k":"30","e":643.3,"v":-0.934},{"k":"30","e":644.3,"v":-0.924},{"k":"30","e":645.5,"v":-0.926},{"k":"30","e":647,"v":-0.915},{"k":"30","e":648.5,"v":-0.922},{"k":"30","e":649.8,"v":-0.906},{"k":"30","e":650.8,"v":-0.935},{"k":"30","e":651.7,"v":-0.942},{"k":"30","e":652.2,"v":-0.95},{"k":"30","e":652.9,"v":-0.935},{"k":"30","e":654,"v":-0.931},{"k":"30","e":656,"v":-0.909},{"k":"30","e":658.5,"v":-0.909},{"k":"30","e":662,"v":-0.9},
{"k":"40","e":628,"v":-1.2},{"k":"40","e":630,"v":-1.205},{"k":"40","e":632,"v":-1.194},{"k":"40","e":634,"v":-1.204},{"k":"40","e":636,"v":-1.194},{"k":"40","e":637.2,"v":-1.201},{"k":"40","e":638,"v":-1.192},{"k":"40","e":638.6,"v":-1.176},{"k":"40","e":639.2,"v":-1.11},{"k":"40","e":639.6,"v":-1.03},{"k":"40","e":640,"v":-1.0},{"k":"40","e":640.15,"v":-1.006},{"k":"40","e":640.4,"v":-1.044},{"k":"40","e":640.7,"v":-1.1},{"k":"40","e":641.1,"v":-1.15},{"k":"40","e":641.6,"v":-1.184},{"k":"40","e":642.4,"v":-1.204},{"k":"40","e":643.3,"v":-1.224},{"k":"40","e":644.3,"v":-1.235},{"k":"40","e":645.5,"v":-1.215},{"k":"40","e":647,"v":-1.226},{"k":"40","e":648.5,"v":-1.212},{"k":"40","e":649.8,"v":-1.213},{"k":"40","e":650.8,"v":-1.218},{"k":"40","e":651.7,"v":-1.242},{"k":"40","e":652.2,"v":-1.24},{"k":"40","e":652.9,"v":-1.237},{"k":"40","e":654,"v":-1.214},{"k":"40","e":656,"v":-1.214},{"k":"40","e":658.5,"v":-1.199},{"k":"40","e":662,"v":-1.205},
{"k":"49","e":628,"v":-1.5},{"k":"49","e":630,"v":-1.494},{"k":"49","e":632,"v":-1.505},{"k":"49","e":634,"v":-1.493},{"k":"49","e":636,"v":-1.504},{"k":"49","e":637.2,"v":-1.494},{"k":"49","e":638,"v":-1.494},{"k":"49","e":638.6,"v":-1.482},{"k":"49","e":639.2,"v":-1.432},{"k":"49","e":639.6,"v":-1.372},{"k":"49","e":640,"v":-1.35},{"k":"49","e":640.15,"v":-1.354},{"k":"49","e":640.4,"v":-1.383},{"k":"49","e":640.7,"v":-1.425},{"k":"49","e":641.1,"v":-1.462},{"k":"49","e":641.6,"v":-1.488},{"k":"49","e":642.4,"v":-1.495},{"k":"49","e":643.3,"v":-1.527},{"k":"49","e":644.3,"v":-1.517},{"k":"49","e":645.5,"v":-1.521},{"k":"49","e":647,"v":-1.51},{"k":"49","e":648.5,"v":-1.518},{"k":"49","e":649.8,"v":-1.502},{"k":"49","e":650.8,"v":-1.523},{"k":"49","e":651.7,"v":-1.523},{"k":"49","e":652.2,"v":-1.53},{"k":"49","e":652.9,"v":-1.519},{"k":"49","e":654,"v":-1.521},{"k":"49","e":656,"v":-1.504},{"k":"49","e":658.5,"v":-1.507},{"k":"49","e":662,"v":-1.5},
{"k":"60","e":628,"v":-1.8},{"k":"60","e":630,"v":-1.805},{"k":"60","e":632,"v":-1.794},{"k":"60","e":634,"v":-1.804},{"k":"60","e":636,"v":-1.794},{"k":"60","e":637.2,"v":-1.803},{"k":"60","e":638,"v":-1.798},{"k":"60","e":638.6,"v":-1.794},{"k":"60","e":639.2,"v":-1.777},{"k":"60","e":639.6,"v":-1.757},{"k":"60","e":640,"v":-1.75},{"k":"60","e":640.15,"v":-1.751},{"k":"60","e":640.4,"v":-1.761},{"k":"60","e":640.7,"v":-1.775},{"k":"60","e":641.1,"v":-1.787},{"k":"60","e":641.6,"v":-1.796},{"k":"60","e":642.4,"v":-1.804},{"k":"60","e":643.3,"v":-1.802},{"k":"60","e":644.3,"v":-1.813},{"k":"60","e":645.5,"v":-1.8},{"k":"60","e":647,"v":-1.811},{"k":"60","e":648.5,"v":-1.8},{"k":"60","e":649.8,"v":-1.807},{"k":"60","e":650.8,"v":-1.8},{"k":"60","e":651.7,"v":-1.814},{"k":"60","e":652.2,"v":-1.81},{"k":"60","e":652.9,"v":-1.813},{"k":"60","e":654,"v":-1.799},{"k":"60","e":656,"v":-1.807},{"k":"60","e":658.5,"v":-1.796},{"k":"60","e":662,"v":-1.803},
{"k":"64","e":628,"v":-2.1},{"k":"64","e":630,"v":-2.094},{"k":"64","e":632,"v":-2.105},{"k":"64","e":634,"v":-2.093},{"k":"64","e":636,"v":-2.104},{"k":"64","e":637.2,"v":-2.097},{"k":"64","e":638,"v":-2.103},{"k":"64","e":638.6,"v":-2.109},{"k":"64","e":639.2,"v":-2.133},{"k":"64","e":639.6,"v":-2.164},{"k":"64","e":640,"v":-2.195},{"k":"64","e":640.15,"v":-2.2},{"k":"64","e":640.4,"v":-2.186},{"k":"64","e":640.7,"v":-2.152},{"k":"64","e":641.1,"v":-2.122},{"k":"64","e":641.6,"v":-2.106},{"k":"64","e":642.4,"v":-2.089},{"k":"64","e":643.3,"v":-2.094},{"k":"64","e":644.3,"v":-2.085},{"k":"64","e":645.5,"v":-2.1},{"k":"64","e":647,"v":-2.091},{"k":"64","e":648.5,"v":-2.104},{"k":"64","e":649.8,"v":-2.082},{"k":"64","e":650.8,"v":-2.084},{"k":"64","e":651.7,"v":-2.068},{"k":"64","e":652.2,"v":-2.07},{"k":"64","e":652.9,"v":-2.069},{"k":"64","e":654,"v":-2.087},{"k":"64","e":656,"v":-2.085},{"k":"64","e":658.5,"v":-2.096},{"k":"64","e":662,"v":-2.092},
{"k":"70","e":628,"v":-2.4},{"k":"70","e":630,"v":-2.405},{"k":"70","e":632,"v":-2.394},{"k":"70","e":634,"v":-2.404},{"k":"70","e":636,"v":-2.394},{"k":"70","e":637.2,"v":-2.405},{"k":"70","e":638,"v":-2.407},{"k":"70","e":638.6,"v":-2.42},{"k":"70","e":639.2,"v":-2.473},{"k":"70","e":639.6,"v":-2.541},{"k":"70","e":640,"v":-2.609},{"k":"70","e":640.15,"v":-2.62},{"k":"70","e":640.4,"v":-2.589},{"k":"70","e":640.7,"v":-2.514},{"k":"70","e":641.1,"v":-2.448},{"k":"70","e":641.6,"v":-2.413},{"k":"70","e":642.4,"v":-2.393},{"k":"70","e":643.3,"v":-2.374},{"k":"70","e":644.3,"v":-2.388},{"k":"70","e":645.5,"v":-2.384},{"k":"70","e":647,"v":-2.398},{"k":"70","e":648.5,"v":-2.391},{"k":"70","e":649.8,"v":-2.378},{"k":"70","e":650.8,"v":-2.352},{"k":"70","e":651.7,"v":-2.351},{"k":"70","e":652.2,"v":-2.34},{"k":"70","e":652.9,"v":-2.354},{"k":"70","e":654,"v":-2.357},{"k":"70","e":656,"v":-2.383},{"k":"70","e":658.5,"v":-2.38},{"k":"70","e":662,"v":-2.392},
{"k":"80","e":628,"v":-2.7},{"k":"80","e":630,"v":-2.694},{"k":"80","e":632,"v":-2.705},{"k":"80","e":634,"v":-2.693},{"k":"80","e":636,"v":-2.704},{"k":"80","e":637.2,"v":-2.7},{"k":"80","e":638,"v":-2.711},{"k":"80","e":638.6,"v":-2.734},{"k":"80","e":639.2,"v":-2.825},{"k":"80","e":639.6,"v":-2.943},{"k":"80","e":640,"v":-3.061},{"k":"80","e":640.15,"v":-3.08},{"k":"80","e":640.4,"v":-3.027},{"k":"80","e":640.7,"v":-2.898},{"k":"80","e":641.1,"v":-2.784},{"k":"80","e":641.6,"v":-2.723},{"k":"80","e":642.4,"v":-2.673},{"k":"80","e":643.3,"v":-2.664},{"k":"80","e":644.3,"v":-2.66},{"k":"80","e":645.5,"v":-2.684},{"k":"80","e":647,"v":-2.679},{"k":"80","e":648.5,"v":-2.696},{"k":"80","e":649.8,"v":-2.651},{"k":"80","e":650.8,"v":-2.635},{"k":"80","e":651.7,"v":-2.606},{"k":"80","e":652.2,"v":-2.6},{"k":"80","e":652.9,"v":-2.61},{"k":"80","e":654,"v":-2.644},{"k":"80","e":656,"v":-2.661},{"k":"80","e":658.5,"v":-2.679},{"k":"80","e":662,"v":-2.679},
{"k":"90","e":628,"v":-3.0},{"k":"90","e":630,"v":-3.005},{"k":"90","e":632,"v":-2.994},{"k":"90","e":634,"v":-3.004},{"k":"90","e":636,"v":-2.994},{"k":"90","e":637.2,"v":-3.008},{"k":"90","e":638,"v":-3.016},{"k":"90","e":638.6,"v":-3.047},{"k":"90","e":639.2,"v":-3.172},{"k":"90","e":639.6,"v":-3.333},{"k":"90","e":640,"v":-3.494},{"k":"90","e":640.15,"v":-3.52},{"k":"90","e":640.4,"v":-3.447},{"k":"90","e":640.7,"v":-3.27},{"k":"90","e":641.1,"v":-3.114},{"k":"90","e":641.6,"v":-3.031},{"k":"90","e":642.4,"v":-2.976},{"k":"90","e":643.3,"v":-2.944},{"k":"90","e":644.3,"v":-2.962},{"k":"90","e":645.5,"v":-2.967},{"k":"90","e":647,"v":-2.986},{"k":"90","e":648.5,"v":-2.983},{"k":"90","e":649.8,"v":-2.942},{"k":"90","e":650.8,"v":-2.896},{"k":"90","e":651.7,"v":-2.881},{"k":"90","e":652.2,"v":-2.86},{"k":"90","e":652.9,"v":-2.886},{"k":"90","e":654,"v":-2.907},{"k":"90","e":656,"v":-2.955},{"k":"90","e":658.5,"v":-2.96},{"k":"90","e":662,"v":-2.978},
{"k":"100","e":628,"v":-3.3},{"k":"100","e":630,"v":-3.294},{"k":"100","e":632,"v":-3.305},{"k":"100","e":634,"v":-3.293},{"k":"100","e":636,"v":-3.304},{"k":"100","e":637.2,"v":-3.302},{"k":"100","e":638,"v":-3.319},{"k":"100","e":638.6,"v":-3.357},{"k":"100","e":639.2,"v":-3.508},{"k":"100","e":639.6,"v":-3.703},{"k":"100","e":640,"v":-3.899},{"k":"100","e":640.15,"v":-3.93},{"k":"100","e":640.4,"v":-3.842},{"k":"100","e":640.7,"v":-3.628},{"k":"100","e":641.1,"v":-3.439},{"k":"100","e":641.6,"v":-3.338},{"k":"100","e":642.4,"v":-3.267},{"k":"100","e":643.3,"v":-3.254},{"k":"100","e":644.3,"v":-3.251},{"k":"100","e":645.5,"v":-3.278},{"k":"100","e":647,"v":-3.275},{"k":"100","e":648.5,"v":-3.293},{"k":"100","e":649.8,"v":-3.228},{"k":"100","e":650.8,"v":-3.2},{"k":"100","e":651.7,"v":-3.162},{"k":"100","e":652.2,"v":-3.15},{"k":"100","e":652.9,"v":-3.167},{"k":"100","e":654,"v":-3.213},{"k":"100","e":656,"v":-3.243},{"k":"100","e":658.5,"v":-3.266},{"k":"100","e":662,"v":-3.27}
],
"base1": [{"v":0},{"v":-0.3},{"v":-0.6},{"v":-0.9},{"v":-1.2},{"v":-1.5},{"v":-1.8},{"v":-2.1},{"v":-2.4},{"v":-2.7},{"v":-3.0}],
"base2": [{"v":0},{"v":-0.3},{"v":-0.6},{"v":-0.9},{"v":-1.2},{"v":-1.5},{"v":-1.8},{"v":-2.1},{"v":-2.4},{"v":-2.7},{"v":-3.0},{"v":-3.3}],
"lab1": [{"t":"0","e":658.3,"v":0.12},{"t":"9","e":658.8,"v":-0.18},{"t":"19","e":658.6,"v":-0.48},{"t":"29","e":658.6,"v":-0.78},{"t":"41","e":658.6,"v":-1.08},{"t":"50","e":658.6,"v":-1.38},{"t":"60","e":658.6,"v":-1.68},{"t":"70","e":658.6,"v":-1.98},{"t":"80","e":658.6,"v":-2.28},{"t":"91","e":658.6,"v":-2.58},{"t":"100","e":658.7,"v":-2.88}],
"lab2": [{"t":"0","e":657.6,"v":0.09},{"t":"10","e":657.0,"v":-0.19},{"t":"21","e":656.6,"v":-0.49},{"t":"30","e":656.8,"v":-0.79},{"t":"40","e":656.8,"v":-1.09},{"t":"50","e":656.8,"v":-1.39},{"t":"60","e":656.8,"v":-1.68},{"t":"70","e":656.8,"v":-1.98},{"t":"76","e":656.8,"v":-2.3},{"t":"80","e":656.8,"v":-2.6},{"t":"88","e":656.8,"v":-2.9},{"t":"100","e":657.4,"v":-3.19}],
"lab3": [{"t":"0","e":658.5,"v":0.14},{"t":"10","e":658.6,"v":-0.17},{"t":"20","e":658.8,"v":-0.49},{"t":"30","e":658.8,"v":-0.79},{"t":"40","e":658.8,"v":-1.09},{"t":"49","e":658.8,"v":-1.4},{"t":"60","e":658.8,"v":-1.7},{"t":"64","e":658.8,"v":-2.0},{"t":"70","e":658.8,"v":-2.29},{"t":"80","e":658.8,"v":-2.58},{"t":"90","e":658.8,"v":-2.88},{"t":"100","e":658.5,"v":-3.17}],
"at1": [{"t":"(at.%)","e":661.1,"v":-4.01}],
"at2": [{"t":"(at.%)","e":661.26,"v":-4.01}],
"at3": [{"t":"(at.%)","e":661.23,"v":-4.01}],
"it1": [{"t":"x","e":654.0,"v":-4.01}],
"it2": [{"t":"y","e":654.6,"v":-4.01}],
"it3": [{"t":"z","e":654.5,"v":-4.01}],
"bot": [{"t":"-4.2x10","e":625.58,"v":-4.2}],
"sup": [{"t":"-2","e":627.34,"v":-4.122}],
"tm1": [{"t":"Mn-Ir / Ni","e":633.64,"v":1.224},{"t":"Co","e":650.8,"v":1.224}],
"ts1": [{"t":"100-x","e":645.95,"v":1.133},{"t":"x","e":654.33,"v":1.133}],
"tm2": [{"t":"Mn-Ir / Co","e":633.36,"v":1.178},{"t":"Fe","e":651.28,"v":1.178}],
"ts2": [{"t":"100-y","e":646.43,"v":1.082},{"t":"y","e":654.48,"v":1.082}],
"tm3": [{"t":"Mn-Ir / Fe","e":634.62,"v":1.195},{"t":"Ni","e":652.1,"v":1.195}],
"ts3": [{"t":"100-z","e":647.37,"v":1.11},{"t":"z","e":654.87,"v":1.11}],
"mn": [{"t":"Mn","e":637.6,"v":0.584},{"t":"Mn","e":649.04,"v":0.584}],
"ll": [{"t":"L","e":641.25,"v":0.584},{"t":"L","e":652.68,"v":0.584}],
"lsub": [{"t":"3","e":642.4,"v":0.54},{"t":"2","e":653.83,"v":0.54}],
"arr": [{"e":640.15,"v":0.436,"v2":0.2},{"e":651.68,"v":0.56,"v2":0.29}],
"head": [{"e":640.15,"v":0.168},{"e":651.68,"v":0.258}]
},
"hconcat": [
{
 "width": 542, "height": 759,
 "resolve": {"axis": {"x": "independent", "y": "independent"}},
 "layer": [
  {"data": {"name": "base1"}, "mark": {"type": "rule", "color": "#c8c8c8", "strokeWidth": 2},
   "encoding": {"y": {"field": "v", "type": "quantitative", "scale": {"domain": [-4.2, 1.0], "nice": false, "zero": false},
     "axis": {"orient": "left", "values": [-4.2,-3.6,-3,-2.4,-1.8,-1.2,-0.6,0,0.6], "tickSize": -20, "labelPadding": 41,
       "labelExpr": "datum.value < -4.1 ? '' : (datum.value < 0 ? '-' : '') + format(abs(datum.value), '.1f')",
       "title": "XMCD,  Δμ (arb. unit)", "titleX": -121, "titleY": 360, "titleAngle": -90, "titleBaseline": "middle", "titleAlign": "center", "titleFontSize": 35}}}},
  {"data": {"name": "p1"}, "mark": {"type": "line", "color": "#209a20", "strokeWidth": 3},
   "encoding": {
    "x": {"field": "e", "type": "quantitative", "scale": {"domain": [628, 662], "nice": false, "zero": false},
      "axis": {"orient": "bottom", "values": [630,640,650,660], "tickSize": -19, "labelPadding": 40, "format": "d", "title": "Photon energy, hν (eV)", "titleX": 256, "titleY": 88, "titleBaseline": "alphabetic", "titleAlign": "center"}},
    "y": {"field": "v", "type": "quantitative", "scale": {"domain": [-4.2, 1.0], "nice": false, "zero": false},
      "axis": {"orient": "right", "values": [-4.2,-3.6,-3,-2.4,-1.8,-1.2,-0.6,0,0.6], "tickSize": -20, "labels": false, "title": null}},
    "detail": {"field": "k"}}},
  {"data": {"name": "lab1"}, "mark": {"type": "text", "fontSize": 31, "align": "center", "baseline": "middle"},
   "encoding": {
    "x": {"field": "e", "type": "quantitative", "scale": {"domain": [628, 662], "nice": false, "zero": false},
      "axis": {"orient": "top", "values": [630,640,650,660], "tickSize": -19, "labels": false, "title": null}},
    "y": {"field": "v", "type": "quantitative", "scale": {"domain": [-4.2, 1.0], "nice": false, "zero": false},
      "axis": {"orient": "left", "values": [-3.9,-3.3,-2.7,-2.1,-1.5,-0.9,-0.3,0.3,0.9], "tickSize": -11, "labels": false, "title": null}},
    "text": {"field": "t"}}},
  {"data": {"name": "at1"}, "mark": {"type": "text", "fontSize": 33, "align": "right", "baseline": "middle"},
   "encoding": {
    "x": {"field": "e", "type": "quantitative", "scale": {"domain": [628, 662], "nice": false, "zero": false},
      "axis": {"orient": "bottom", "values": [635,645,655], "tickSize": -10, "labels": false, "title": null}},
    "y": {"field": "v", "type": "quantitative", "scale": {"domain": [-4.2, 1.0], "nice": false, "zero": false},
      "axis": {"orient": "right", "values": [-3.9,-3.3,-2.7,-2.1,-1.5,-0.9,-0.3,0.3,0.9], "tickSize": -11, "labels": false, "title": null}},
    "text": {"field": "t"}}},
  {"data": {"name": "it1"}, "mark": {"type": "text", "fontSize": 33, "fontStyle": "italic", "align": "right", "baseline": "middle"},
   "encoding": {
    "x": {"field": "e", "type": "quantitative", "scale": {"domain": [628, 662], "nice": false, "zero": false},
      "axis": {"orient": "top", "values": [635,645,655], "tickSize": -10, "labels": false, "title": null}},
    "y": {"field": "v", "type": "quantitative", "scale": {"domain": [-4.2, 1.0], "nice": false, "zero": false}, "axis": null},
    "text": {"field": "t"}}},
  {"data": {"name": "bot"}, "mark": {"type": "text", "fontSize": 34, "align": "right", "baseline": "middle"},
   "encoding": {
    "x": {"field": "e", "type": "quantitative", "scale": {"domain": [628, 662], "nice": false, "zero": false}, "axis": null},
    "y": {"field": "v", "type": "quantitative", "scale": {"domain": [-4.2, 1.0], "nice": false, "zero": false}, "axis": null},
    "text": {"field": "t"}}},
  {"data": {"name": "sup"}, "mark": {"type": "text", "fontSize": 22, "align": "right", "baseline": "middle"},
   "encoding": {
    "x": {"field": "e", "type": "quantitative", "scale": {"domain": [628, 662], "nice": false, "zero": false}, "axis": null},
    "y": {"field": "v", "type": "quantitative", "scale": {"domain": [-4.2, 1.0], "nice": false, "zero": false}, "axis": null},
    "text": {"field": "t"}}},
  {"data": {"name": "tm1"}, "mark": {"type": "text", "fontSize": 43, "align": "left", "baseline": "alphabetic"},
   "encoding": {
    "x": {"field": "e", "type": "quantitative", "scale": {"domain": [628, 662], "nice": false, "zero": false}, "axis": null},
    "y": {"field": "v", "type": "quantitative", "scale": {"domain": [-4.2, 1.0], "nice": false, "zero": false}, "axis": null},
    "text": {"field": "t"}}},
  {"data": {"name": "ts1"}, "mark": {"type": "text", "fontSize": 27, "align": "left", "baseline": "alphabetic"},
   "encoding": {
    "x": {"field": "e", "type": "quantitative", "scale": {"domain": [628, 662], "nice": false, "zero": false}, "axis": null},
    "y": {"field": "v", "type": "quantitative", "scale": {"domain": [-4.2, 1.0], "nice": false, "zero": false}, "axis": null},
    "text": {"field": "t"}}},
  {"data": {"name": "mn"}, "mark": {"type": "text", "fontSize": 32, "align": "left", "baseline": "alphabetic"},
   "encoding": {
    "x": {"field": "e", "type": "quantitative", "scale": {"domain": [628, 662], "nice": false, "zero": false}, "axis": null},
    "y": {"field": "v", "type": "quantitative", "scale": {"domain": [-4.2, 1.0], "nice": false, "zero": false}, "axis": null},
    "text": {"field": "t"}}},
  {"data": {"name": "ll"}, "mark": {"type": "text", "fontSize": 32, "fontStyle": "italic", "align": "left", "baseline": "alphabetic"},
   "encoding": {
    "x": {"field": "e", "type": "quantitative", "scale": {"domain": [628, 662], "nice": false, "zero": false}, "axis": null},
    "y": {"field": "v", "type": "quantitative", "scale": {"domain": [-4.2, 1.0], "nice": false, "zero": false}, "axis": null},
    "text": {"field": "t"}}},
  {"data": {"name": "lsub"}, "mark": {"type": "text", "fontSize": 22, "align": "left", "baseline": "alphabetic"},
   "encoding": {
    "x": {"field": "e", "type": "quantitative", "scale": {"domain": [628, 662], "nice": false, "zero": false}, "axis": null},
    "y": {"field": "v", "type": "quantitative", "scale": {"domain": [-4.2, 1.0], "nice": false, "zero": false}, "axis": null},
    "text": {"field": "t"}}},
  {"data": {"name": "arr"}, "mark": {"type": "rule", "color": "black", "strokeWidth": 3.5},
   "encoding": {
    "x": {"field": "e", "type": "quantitative", "scale": {"domain": [628, 662], "nice": false, "zero": false}, "axis": null},
    "y": {"field": "v", "type": "quantitative", "scale": {"domain": [-4.2, 1.0], "nice": false, "zero": false}, "axis": null},
    "y2": {"field": "v2"}}},
  {"data": {"name": "head"}, "mark": {"type": "point", "shape": "triangle-down", "filled": true, "color": "black", "size": 230, "opacity": 1},
   "encoding": {
    "x": {"field": "e", "type": "quantitative", "scale": {"domain": [628, 662], "nice": false, "zero": false}, "axis": null},
    "y": {"field": "v", "type": "quantitative", "scale": {"domain": [-4.2, 1.0], "nice": false, "zero": false}, "axis": null}}}
 ]
},
{
 "width": 542, "height": 759,
 "resolve": {"axis": {"x": "independent", "y": "independent"}},
 "layer": [
  {"data": {"name": "base2"}, "mark": {"type": "rule", "color": "#c8c8c8", "strokeWidth": 2},
   "encoding": {"y": {"field": "v", "type": "quantitative", "scale": {"domain": [-4.2, 1.0], "nice": false, "zero": false},
     "axis": {"orient": "left", "values": [-4.2,-3.6,-3,-2.4,-1.8,-1.2,-0.6,0,0.6], "tickSize": -20, "labels": false, "title": null}}}},
  {"data": {"name": "p2"}, "mark": {"type": "line", "color": "#209a20", "strokeWidth": 3},
   "encoding": {
    "x": {"field": "e", "type": "quantitative", "scale": {"domain": [628, 662], "nice": false, "zero": false},
      "axis": {"orient": "bottom", "values": [630,640,650,660], "tickSize": -19, "labelPadding": 40, "format": "d", "title": "Photon energy, hν (eV)", "titleX": 256, "titleY": 88, "titleBaseline": "alphabetic", "titleAlign": "center"}},
    "y": {"field": "v", "type": "quantitative", "scale": {"domain": [-4.2, 1.0], "nice": false, "zero": false},
      "axis": {"orient": "right", "values": [-4.2,-3.6,-3,-2.4,-1.8,-1.2,-0.6,0,0.6], "tickSize": -20, "labels": false, "title": null}},
    "detail": {"field": "k"}}},
  {"data": {"name": "lab2"}, "mark": {"type": "text", "fontSize": 31, "align": "center", "baseline": "middle"},
   "encoding": {
    "x": {"field": "e", "type": "quantitative", "scale": {"domain": [628, 662], "nice": false, "zero": false},
      "axis": {"orient": "top", "values": [630,640,650,660], "tickSize": -19, "labels": false, "title": null}},
    "y": {"field": "v", "type": "quantitative", "scale": {"domain": [-4.2, 1.0], "nice": false, "zero": false},
      "axis": {"orient": "left", "values": [-3.9,-3.3,-2.7,-2.1,-1.5,-0.9,-0.3,0.3,0.9], "tickSize": -11, "labels": false, "title": null}},
    "text": {"field": "t"}}},
  {"data": {"name": "at2"}, "mark": {"type": "text", "fontSize": 33, "align": "right", "baseline": "middle"},
   "encoding": {
    "x": {"field": "e", "type": "quantitative", "scale": {"domain": [628, 662], "nice": false, "zero": false},
      "axis": {"orient": "bottom", "values": [635,645,655], "tickSize": -10, "labels": false, "title": null}},
    "y": {"field": "v", "type": "quantitative", "scale": {"domain": [-4.2, 1.0], "nice": false, "zero": false},
      "axis": {"orient": "right", "values": [-3.9,-3.3,-2.7,-2.1,-1.5,-0.9,-0.3,0.3,0.9], "tickSize": -11, "labels": false, "title": null}},
    "text": {"field": "t"}}},
  {"data": {"name": "it2"}, "mark": {"type": "text", "fontSize": 33, "fontStyle": "italic", "align": "right", "baseline": "middle"},
   "encoding": {
    "x": {"field": "e", "type": "quantitative", "scale": {"domain": [628, 662], "nice": false, "zero": false},
      "axis": {"orient": "top", "values": [635,645,655], "tickSize": -10, "labels": false, "title": null}},
    "y": {"field": "v", "type": "quantitative", "scale": {"domain": [-4.2, 1.0], "nice": false, "zero": false}, "axis": null},
    "text": {"field": "t"}}},
  {"data": {"name": "tm2"}, "mark": {"type": "text", "fontSize": 43, "align": "left", "baseline": "alphabetic"},
   "encoding": {
    "x": {"field": "e", "type": "quantitative", "scale": {"domain": [628, 662], "nice": false, "zero": false}, "axis": null},
    "y": {"field": "v", "type": "quantitative", "scale": {"domain": [-4.2, 1.0], "nice": false, "zero": false}, "axis": null},
    "text": {"field": "t"}}},
  {"data": {"name": "ts2"}, "mark": {"type": "text", "fontSize": 27, "align": "left", "baseline": "alphabetic"},
   "encoding": {
    "x": {"field": "e", "type": "quantitative", "scale": {"domain": [628, 662], "nice": false, "zero": false}, "axis": null},
    "y": {"field": "v", "type": "quantitative", "scale": {"domain": [-4.2, 1.0], "nice": false, "zero": false}, "axis": null},
    "text": {"field": "t"}}}
 ]
},
{
 "width": 542, "height": 759,
 "resolve": {"axis": {"x": "independent", "y": "independent"}},
 "layer": [
  {"data": {"name": "base2"}, "mark": {"type": "rule", "color": "#c8c8c8", "strokeWidth": 2},
   "encoding": {"y": {"field": "v", "type": "quantitative", "scale": {"domain": [-4.2, 1.0], "nice": false, "zero": false},
     "axis": {"orient": "left", "values": [-4.2,-3.6,-3,-2.4,-1.8,-1.2,-0.6,0,0.6], "tickSize": -20, "labels": false, "title": null}}}},
  {"data": {"name": "p3"}, "mark": {"type": "line", "color": "#209a20", "strokeWidth": 3},
   "encoding": {
    "x": {"field": "e", "type": "quantitative", "scale": {"domain": [628, 662], "nice": false, "zero": false},
      "axis": {"orient": "bottom", "values": [630,640,650,660], "tickSize": -19, "labelPadding": 40, "format": "d", "title": "Photon energy, hν (eV)", "titleX": 256, "titleY": 88, "titleBaseline": "alphabetic", "titleAlign": "center"}},
    "y": {"field": "v", "type": "quantitative", "scale": {"domain": [-4.2, 1.0], "nice": false, "zero": false},
      "axis": {"orient": "right", "values": [-4.2,-3.6,-3,-2.4,-1.8,-1.2,-0.6,0,0.6], "tickSize": -20, "labels": false, "title": null}},
    "detail": {"field": "k"}}},
  {"data": {"name": "lab3"}, "mark": {"type": "text", "fontSize": 31, "align": "center", "baseline": "middle"},
   "encoding": {
    "x": {"field": "e", "type": "quantitative", "scale": {"domain": [628, 662], "nice": false, "zero": false},
      "axis": {"orient": "top", "values": [630,640,650,660], "tickSize": -19, "labels": false, "title": null}},
    "y": {"field": "v", "type": "quantitative", "scale": {"domain": [-4.2, 1.0], "nice": false, "zero": false},
      "axis": {"orient": "left", "values": [-3.9,-3.3,-2.7,-2.1,-1.5,-0.9,-0.3,0.3,0.9], "tickSize": -11, "labels": false, "title": null}},
    "text": {"field": "t"}}},
  {"data": {"name": "at3"}, "mark": {"type": "text", "fontSize": 33, "align": "right", "baseline": "middle"},
   "encoding": {
    "x": {"field": "e", "type": "quantitative", "scale": {"domain": [628, 662], "nice": false, "zero": false},
      "axis": {"orient": "bottom", "values": [635,645,655], "tickSize": -10, "labels": false, "title": null}},
    "y": {"field": "v", "type": "quantitative", "scale": {"domain": [-4.2, 1.0], "nice": false, "zero": false},
      "axis": {"orient": "right", "values": [-3.9,-3.3,-2.7,-2.1,-1.5,-0.9,-0.3,0.3,0.9], "tickSize": -11, "labels": false, "title": null}},
    "text": {"field": "t"}}},
  {"data": {"name": "it3"}, "mark": {"type": "text", "fontSize": 33, "fontStyle": "italic", "align": "right", "baseline": "middle"},
   "encoding": {
    "x": {"field": "e", "type": "quantitative", "scale": {"domain": [628, 662], "nice": false, "zero": false},
      "axis": {"orient": "top", "values": [635,645,655], "tickSize": -10, "labels": false, "title": null}},
    "y": {"field": "v", "type": "quantitative", "scale": {"domain": [-4.2, 1.0], "nice": false, "zero": false}, "axis": null},
    "text": {"field": "t"}}},
  {"data": {"name": "tm3"}, "mark": {"type": "text", "fontSize": 43, "align": "left", "baseline": "alphabetic"},
   "encoding": {
    "x": {"field": "e", "type": "quantitative", "scale": {"domain": [628, 662], "nice": false, "zero": false}, "axis": null},
    "y": {"field": "v", "type": "quantitative", "scale": {"domain": [-4.2, 1.0], "nice": false, "zero": false}, "axis": null},
    "text": {"field": "t"}}},
  {"data": {"name": "ts3"}, "mark": {"type": "text", "fontSize": 27, "align": "left", "baseline": "alphabetic"},
   "encoding": {
    "x": {"field": "e", "type": "quantitative", "scale": {"domain": [628, 662], "nice": false, "zero": false}, "axis": null},
    "y": {"field": "v", "type": "quantitative", "scale": {"domain": [-4.2, 1.0], "nice": false, "zero": false}, "axis": null},
    "text": {"field": "t"}}}
 ]
}
]
}
